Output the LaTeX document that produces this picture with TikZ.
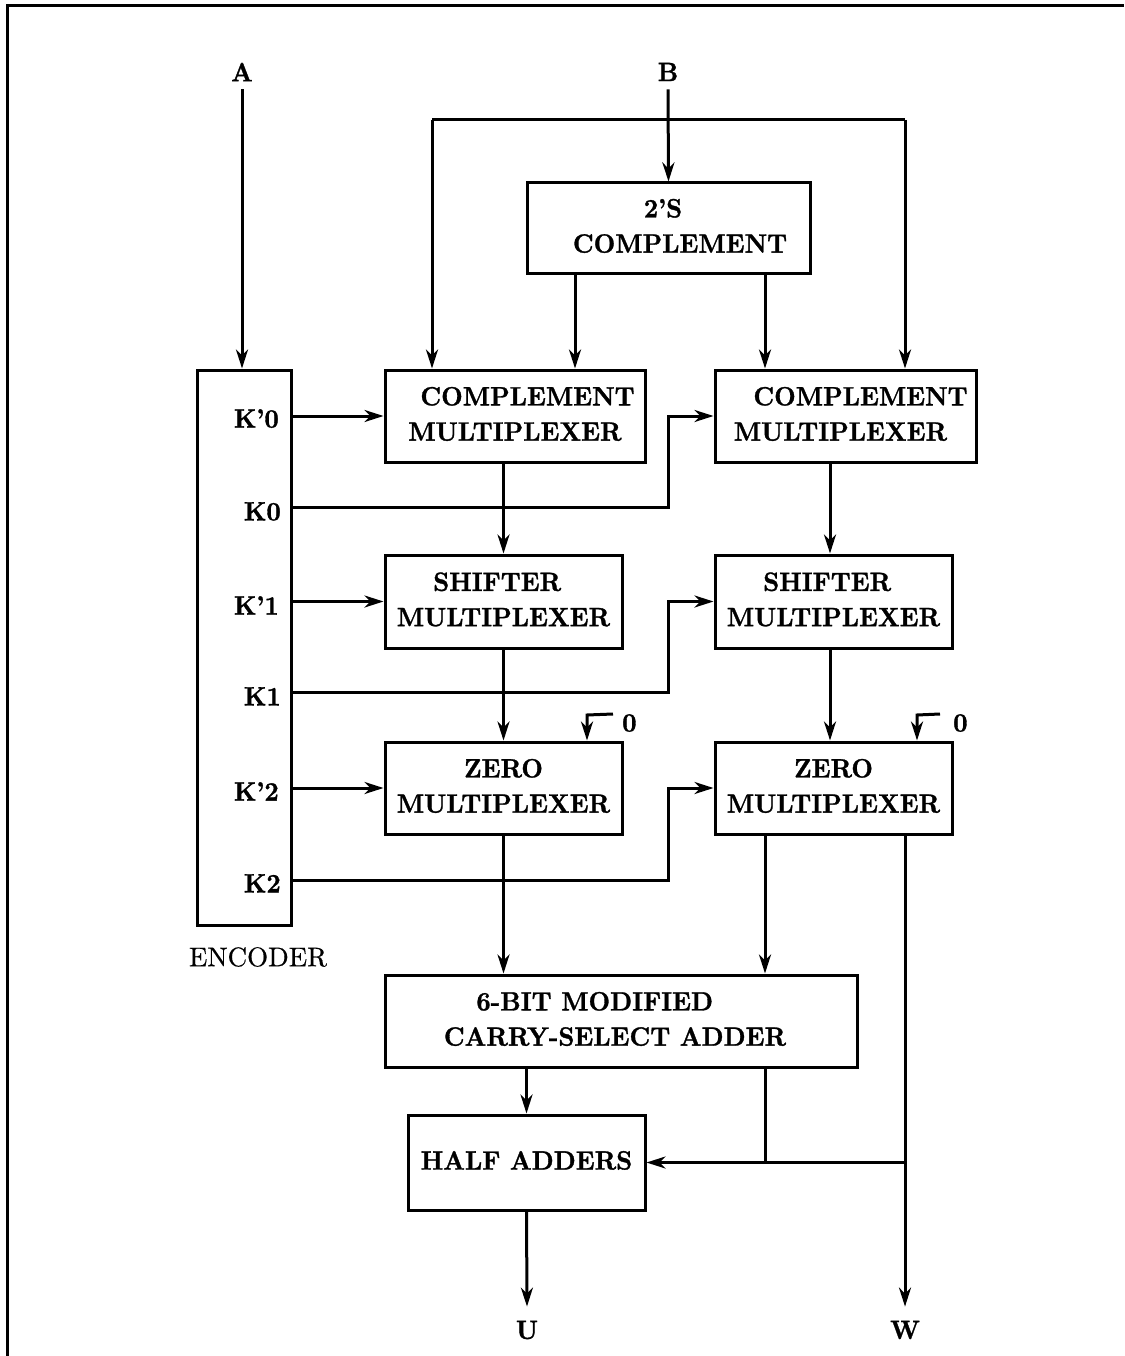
\documentclass[tikz,border=0pt]{standalone}
\usepackage{graphicx}
\usepackage{fontspec}
\usetikzlibrary{arrows.meta}
% heavy bold face for block and signal text
\newfontfamily\blk{lmroman10-bold.otf}[FakeBold=1.2,Ligatures=TeX]
\newfontfamily\rgl{lmroman10-regular.otf}[FakeBold=0.5,Ligatures=TeX]
\newcommand\bt[2][c]{\scalebox{2.5}[2.65]{\blk\fontsize{10}{13.3}\selectfont
  \begin{tabular}{@{}#1@{}}#2\end{tabular}}}
\newcommand\bl[1]{\scalebox{2.5}[2.65]{\blk\fontsize{10}{12}\selectfont #1}}
\begin{document}
\begin{tikzpicture}[x=1pt,y=-1pt,
  wire/.style={line width=3pt},
  arr/.style={wire,-{Stealth[length=19pt,width=12pt,inset=6pt]}},
  box/.style={draw,line width=3pt,inner sep=0pt},
  lbl/.style={inner sep=0pt}]
\useasboundingbox (0,0) rectangle (1124,1356);
% frame
\draw[line width=3pt] (7,1356) -- (7,6) -- (1124,6);

% blocks
\node[box,minimum width=283pt,minimum height=90pt] (tc) at (668.5,228)
  {\bt{\hspace*{-4.4pt}2’S\\\hspace*{9.2pt}COMPLEMENT}};
\node[box,minimum width=260pt,minimum height=92pt] (cm1) at (515,416)
  {\bt{\hspace*{10pt}COMPLEMENT\\MULTIPLEXER}};
\node[box,minimum width=261pt,minimum height=92pt] (cm2) at (845.5,416)
  {\bt{\hspace*{12pt}COMPLEMENT\\MULTIPLEXER\hspace*{4pt}}};
\node[box,minimum width=237pt,minimum height=93pt] (sm1) at (503.5,601.5)
  {\bt{SHIFTER\hspace*{5pt}\\MULTIPLEXER}};
\node[box,minimum width=237pt,minimum height=93pt] (sm2) at (833.5,601.5)
  {\bt{SHIFTER\hspace*{5pt}\\MULTIPLEXER}};
\node[box,minimum width=237pt,minimum height=92pt] (zm1) at (503.5,788)
  {\bt{ZERO\\MULTIPLEXER}};
\node[box,minimum width=237pt,minimum height=92pt] (zm2) at (833.5,788)
  {\bt{ZERO\\MULTIPLEXER}};
\node[box,minimum width=94pt,minimum height=555pt] (enc) at (244,647.5) {};
\node[box,minimum width=472pt,minimum height=92pt] (add) at (621,1021)
  {\bt[l]{\hspace*{13pt}6-BIT MODIFIED\\CARRY-SELECT ADDER}\hspace*{12pt}};
\node[box,minimum width=237pt,minimum height=95pt] (ha) at (526.5,1162.5)
  {\bt{HALF ADDERS}};

% labels
\node[lbl] (A) at (242,72) {\bl{A}};
\node[lbl] (B) at (668,72) {\bl{B}};
\node[lbl] (U) at (527,1330) {\bl{U}};
\node[lbl] (W) at (905,1330) {\bl{W}};
\node[lbl] (encl) at (258,957) {\scalebox{2.7}{\rgl ENCODER}};
\node[lbl,anchor=north east] (kp0) at (279,409) {\bl{K’0}};
\node[lbl,anchor=north east] (k0)  at (281,502) {\bl{K0}};
\node[lbl,anchor=north east] (kp1) at (279,596) {\bl{K’1}};
\node[lbl,anchor=north east] (k1)  at (281,687) {\bl{K1}};
\node[lbl,anchor=north east] (kp2) at (279,782) {\bl{K’2}};
\node[lbl,anchor=north east] (k2)  at (281,874) {\bl{K2}};
\node[lbl,anchor=north west] (zero1) at (622,714) {\bl{0}};
\node[lbl,anchor=north west] (zero2) at (953,714) {\bl{0}};

% routing columns and junctions
\coordinate (colL) at (432,120);
\coordinate (colB) at (905,120);
\coordinate (colR) at (765,0);
\coordinate (colM) at (575,0);
\coordinate (colS) at (830,0);
\coordinate (j0) at (668,507);
\coordinate (j1) at (668,692);
\coordinate (j2) at (668,880);
\coordinate (zc1) at (587,715);
\coordinate (zc2) at (917,715);

% inputs
\draw[arr] ([yshift=-8pt]A.south) -- (A.south |- enc.north);
\draw[arr] ([yshift=-8pt]B.south) -- (tc.north);
\draw[wire] (colL) -- (colB);
\draw[arr] (colL) -- (colL |- cm1.north);
\draw[arr] (colB) -- (colB |- cm2.north);
\draw[arr] (colM |- tc.south) -- (colM |- cm1.north);
\draw[arr] (colR |- tc.south) -- (colR |- cm2.north);

% encoder outputs
\draw[arr] (enc.east |- cm1.west) -- (cm1.west);
\draw[arr] (enc.east |- j0) -- (j0) |- (cm2.west);
\draw[arr] (enc.east |- sm1.west) -- (sm1.west);
\draw[arr] (enc.east |- j1) -- (j1) |- (sm2.west);
\draw[arr] (enc.east |- zm1.west) -- (zm1.west);
\draw[arr] (enc.east |- j2) -- (j2) |- (zm2.west);

% data path
\draw[arr] (sm1.north |- cm1.south) -- (sm1.north);
\draw[arr] (colS |- cm2.south) -- (colS |- sm2.north);
\draw[arr] (sm1.south) -- (zm1.north);
\draw[arr] (colS |- sm2.south) -- (colS |- zm2.north);
\draw[arr] ([xshift=-9pt]zero1.north west) -- (zc1) -- (zc1 |- zm1.north);
\draw[arr] ([xshift=-13pt]zero2.north west) -- (zc2) -- (zc2 |- zm2.north);
\draw[arr] (zm1.south) -- (zm1.south |- add.north);
\draw[arr] (colR |- zm2.south) -- (colR |- add.north);
\draw[arr] (colB |- zm2.south) -- ([yshift=14pt]W.north);
\draw[arr] (ha.north |- add.south) -- (ha.north);
\draw[wire] (colR |- add.south) -- (colR |- ha.east);
\draw[arr] (colB |- ha.east) -- (ha.east);
\draw[arr] (ha.south) -- ([yshift=14pt]U.north);
\end{tikzpicture}
\end{document}
